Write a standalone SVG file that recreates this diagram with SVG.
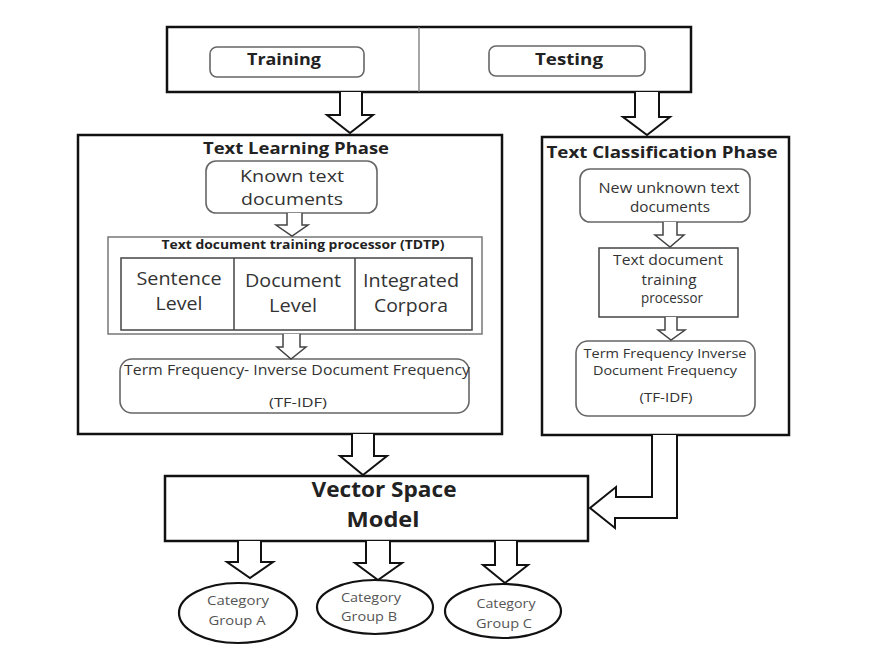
<svg xmlns="http://www.w3.org/2000/svg" width="870" height="651" viewBox="0 0 870 651">
<style>
.big{fill:#fff;stroke:#111;stroke-width:2.5}
.rb{fill:#fff;stroke:#666;stroke-width:1.6}
.in{fill:#fff;stroke:#444;stroke-width:1.5}
.arr{fill:#fff;stroke:#111;stroke-width:2;stroke-linejoin:miter}
.arrs{fill:#fff;stroke:#444;stroke-width:1.5}
text{font-family:"Open Sans","Liberation Sans",sans-serif;text-anchor:middle}
.t{fill:#222;font-weight:bold}
.l{fill:#333}
.c{fill:#555;font-size:12px}
</style>
<rect width="870" height="651" fill="#fff"/>
<g id="top">
<rect class="big" x="167" y="27" width="524" height="65"/>
<line x1="419" y1="27" x2="419" y2="92" stroke="#777" stroke-width="1.3"/>
</g>
<g id="training">
<rect class="rb" x="210" y="47" width="154" height="30" rx="7"/>
<text class="t" x="284" y="65" font-size="16" textLength="74" lengthAdjust="spacingAndGlyphs">Training</text>
</g>
<g id="testing">
<rect class="rb" x="489" y="46" width="156" height="30" rx="7"/>
<text class="t" x="569" y="65" font-size="16" textLength="68" lengthAdjust="spacingAndGlyphs">Testing</text>
</g>
<g id="learning">
<rect class="big" x="78" y="135" width="424" height="299"/>
<text class="t" x="296" y="154" font-size="16" textLength="186" lengthAdjust="spacingAndGlyphs">Text Learning Phase</text>
</g>
<g id="known">
<rect class="rb" x="206" y="161" width="171" height="52" rx="10"/>
<text class="l" x="292" y="182" font-size="17" textLength="104" lengthAdjust="spacingAndGlyphs">Known text</text>
<text class="l" x="292" y="205" font-size="17" textLength="102" lengthAdjust="spacingAndGlyphs">documents</text>
</g>
<g id="tdtp">
<rect x="108" y="237" width="374" height="97" fill="#fff" stroke="#777" stroke-width="1.5"/>
<text class="t" x="303" y="249" font-size="12" textLength="283" lengthAdjust="spacingAndGlyphs">Text document training processor (TDTP)</text>
<rect class="in" x="121" y="258" width="351" height="72"/>
<line x1="234" y1="258" x2="234" y2="330" stroke="#444" stroke-width="1.5"/>
<line x1="355" y1="258" x2="355" y2="330" stroke="#444" stroke-width="1.5"/>
<text class="l" x="179" y="285" font-size="18" textLength="85" lengthAdjust="spacingAndGlyphs">Sentence</text>
<text class="l" x="179" y="310" font-size="18" textLength="47" lengthAdjust="spacingAndGlyphs">Level</text>
<text class="l" x="293" y="287" font-size="18" textLength="96" lengthAdjust="spacingAndGlyphs">Document</text>
<text class="l" x="293" y="312" font-size="18" textLength="48" lengthAdjust="spacingAndGlyphs">Level</text>
<text class="l" x="411" y="287" font-size="18" textLength="96" lengthAdjust="spacingAndGlyphs">Integrated</text>
<text class="l" x="411" y="312" font-size="18" textLength="74" lengthAdjust="spacingAndGlyphs">Corpora</text>
</g>
<g id="tfidf-left">
<rect class="rb" x="120" y="359" width="349" height="54" rx="12"/>
<text class="l" x="297" y="375" font-size="14" textLength="346" lengthAdjust="spacingAndGlyphs">Term Frequency- Inverse Document Frequency</text>
<text class="l" x="298" y="407" font-size="13" textLength="58" lengthAdjust="spacingAndGlyphs">(TF-IDF)</text>
</g>
<g id="classification">
<rect class="big" x="542" y="137" width="247" height="298"/>
<text class="t" x="662" y="158" font-size="16" textLength="231" lengthAdjust="spacingAndGlyphs">Text Classification Phase</text>
</g>
<g id="newdocs">
<rect class="rb" x="580" y="169" width="170" height="53" rx="10"/>
<text class="l" x="669" y="193" font-size="14" textLength="141" lengthAdjust="spacingAndGlyphs">New unknown text</text>
<text class="l" x="670" y="212" font-size="14" textLength="80" lengthAdjust="spacingAndGlyphs">documents</text>
</g>
<g id="tdp-right">
<rect class="in" x="599" y="248" width="139" height="69"/>
<text class="l" x="668" y="265" font-size="14" textLength="110" lengthAdjust="spacingAndGlyphs">Text document</text>
<text class="l" x="669" y="285" font-size="14" textLength="55" lengthAdjust="spacingAndGlyphs">training</text>
<text class="l" x="672" y="303" font-size="14" textLength="62" lengthAdjust="spacingAndGlyphs">processor</text>
</g>
<g id="tfidf-right">
<rect class="rb" x="576" y="341" width="179" height="75" rx="12"/>
<text class="l" x="665" y="358" font-size="13" textLength="163" lengthAdjust="spacingAndGlyphs">Term Frequency Inverse</text>
<text class="l" x="665" y="375" font-size="13" textLength="144" lengthAdjust="spacingAndGlyphs">Document Frequency</text>
<text class="l" x="666" y="402" font-size="12" textLength="53" lengthAdjust="spacingAndGlyphs">(TF-IDF)</text>
</g>
<g id="vsm">
<rect class="big" x="165" y="476" width="423" height="65"/>
<text class="t" x="384" y="497" font-size="21" fill="#111" textLength="145" lengthAdjust="spacingAndGlyphs">Vector Space</text>
<text class="t" x="383" y="527" font-size="21" fill="#111" textLength="73" lengthAdjust="spacingAndGlyphs">Model</text>
</g>
<g id="catA">
<ellipse cx="238" cy="613" rx="59" ry="30" fill="#fff" stroke="#111" stroke-width="2.2"/>
<text class="c" x="238" y="605" textLength="62" lengthAdjust="spacingAndGlyphs">Category</text>
<text class="c" x="237" y="625" textLength="57" lengthAdjust="spacingAndGlyphs">Group A</text>
</g>
<g id="catB">
<ellipse cx="375" cy="607" rx="58" ry="27" fill="#fff" stroke="#111" stroke-width="2.2"/>
<text class="c" x="371" y="602" textLength="60" lengthAdjust="spacingAndGlyphs">Category</text>
<text class="c" x="369" y="621" textLength="56" lengthAdjust="spacingAndGlyphs">Group B</text>
</g>
<g id="catC">
<ellipse cx="503" cy="611" rx="58" ry="27" fill="#fff" stroke="#111" stroke-width="2.2"/>
<text class="c" x="506" y="608" textLength="59" lengthAdjust="spacingAndGlyphs">Category</text>
<text class="c" x="504" y="628" textLength="56" lengthAdjust="spacingAndGlyphs">Group C</text>
</g>
<g id="connectors">
<path class="arr" d="M340,92 V115 H327 L350,133 L373,115 H362 V92"/>
<path class="arr" d="M635,92 V117 H623 L647,135 L670,117 H659 V92"/>
<path class="arrs" d="M287,213 V225 H276 L292,236 L308,225 H302 V213"/>
<path class="arrs" d="M283,334 V347 H277 L291,359 L306,347 H300 V334"/>
<path class="arrs" d="M663,222 V235 H655 L670,247 L684,235 H677 V222"/>
<path class="arrs" d="M665,317 V330 H658 L671,340 L685,330 H677 V317"/>
<path class="arr" d="M352,434 V456 H340 L363,475 L387,456 H374 V434"/>
<path class="arr" d="M652,435 V497 H616 V487 L590,508 L615,528 V518 H677 V435"/>
<path class="arr" d="M238,541 V562 H227 L250,578 L273,562 H261 V541"/>
<path class="arr" d="M366,541 V563 H355 L378,580 L402,563 H390 V541"/>
<path class="arr" d="M495,541 V565 H483 L505,583 L528,565 H517 V541"/>
</g>
</svg>
